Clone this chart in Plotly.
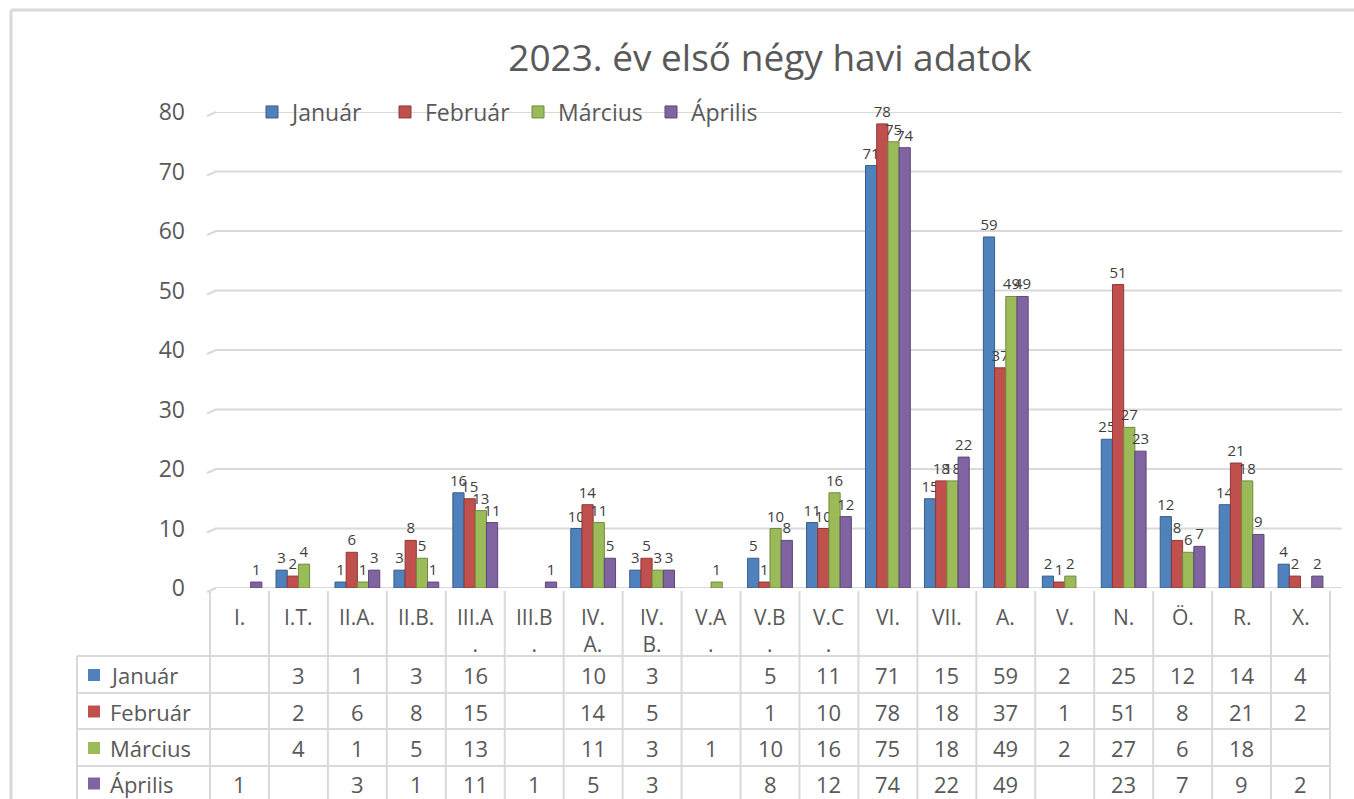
import plotly.graph_objects as go

# ---------------- data ----------------
categories = ["I.", "I.T.", "II.A.", "II.B.", "III.A.", "III.B.", "IV. A.", "IV. B.",
              "V.A.", "V.B.", "V.C.", "VI.", "VII.", "A.", "V.", "N.", "Ö.", "R.", "X."]
header_labels = ["I.", "I.T.", "II.A.", "II.B.", "III.A<br>.", "III.B<br>.", "IV.<br>A.",
                 "IV.<br>B.", "V.A<br>.", "V.B<br>.", "V.C<br>.", "VI.", "VII.", "A.", "V.",
                 "N.", "Ö.", "R.", "X."]
series_names = ["Január", "Február", "Március", "Április"]
januar = [None, 3, 1, 3, 16, None, 10, 3, None, 5, 11, 71, 15, 59, 2, 25, 12, 14, 4]
februar = [None, 2, 6, 8, 15, None, 14, 5, None, 1, 10, 78, 18, 37, 1, 51, 8, 21, 2]
marcius = [None, 4, 1, 5, 13, None, 11, 3, 1, 10, 16, 75, 18, 49, 2, 27, 6, 18, None]
aprilis = [1, None, 3, 1, 11, 1, 5, 3, None, 8, 12, 74, 22, 49, None, 23, 7, 9, 2]
y_ticks = [0, 10, 20, 30, 40, 50, 60, 70, 80]
title_text = "2023. év első négy havi adatok"

# ---------------- style ----------------
W, H = 1354, 799
colors = ["#4F81BD", "#C0504D", "#9BBB59", "#8064A2"]
edge = ["#385D8A", "#8C3836", "#71893F", "#5C4776"]
FONT = "Open Sans"
TXT = "#595959"
GRID = "#D9D9D9"


def py(p):
    return 1 - p / H


def px(p):
    return p / W


x_left, x_right = 210, 1330
y_zero, y_top = 588, 112
row_lines = [656, 693, 729, 766]
row_text = [675, 711.5, 748, 783.5]

series = [januar, februar, marcius, aprilis]

fig = go.Figure()
for name, vals, c, e in zip(series_names, series, colors, edge):
    fig.add_trace(go.Bar(
        x=categories, y=vals, name=name,
        marker=dict(color=c, line=dict(color=e, width=1)),
        text=[("" if v is None else str(v)) for v in vals],
        textposition="outside", cliponaxis=False, constraintext="none",
        textfont=dict(family=FONT, size=15, color="#404040"),
        hoverinfo="skip",
    ))

shapes = []
# frame
shapes.append(dict(type="line", xref="paper", yref="paper", x0=px(11), x1=1, y0=py(10), y1=py(10),
                   line=dict(color=GRID, width=3)))
shapes.append(dict(type="line", xref="paper", yref="paper", x0=px(11), x1=px(11), y0=py(10), y1=0,
                   line=dict(color=GRID, width=3)))
# gridlines (extend past the plot area like the 3D back wall)
for t in y_ticks:
    shapes.append(dict(type="line", xref="paper", yref="y", x0=px(215), x1=px(1342), y0=t, y1=t,
                       line=dict(color=GRID, width=2), layer="below"))
    shapes.append(dict(type="line", xref="paper", yref="paper", x0=px(207), x1=px(216),
                       y0=py(y_zero - (y_zero - y_top) * t / 80 + 4),
                       y1=py(y_zero - (y_zero - y_top) * t / 80),
                       line=dict(color=GRID, width=2), layer="below"))
# table vertical lines
n = len(categories)
for k in range(n + 1):
    xx = x_left + (x_right - x_left) * k / n
    shapes.append(dict(type="line", xref="paper", yref="paper", x0=px(xx), x1=px(xx),
                       y0=py(y_zero + 3), y1=0, line=dict(color=GRID, width=2)))
# table left border
shapes.append(dict(type="line", xref="paper", yref="paper", x0=px(77), x1=px(77),
                   y0=py(row_lines[0]), y1=0, line=dict(color=GRID, width=2)))
# table horizontal lines
for r in row_lines:
    shapes.append(dict(type="line", xref="paper", yref="paper", x0=px(77), x1=px(x_right),
                       y0=py(r), y1=py(r), line=dict(color=GRID, width=2)))
# legend keys in table
for i, c in enumerate(colors):
    yc = row_text[i]
    shapes.append(dict(type="rect", xref="paper", yref="paper", x0=px(88), x1=px(100),
                       y0=py(yc + 6), y1=py(yc - 6), fillcolor=c, line=dict(width=0)))

annotations = []
for i, (name, vals) in enumerate(zip(series_names, series)):
    annotations.append(dict(xref="paper", yref="paper", x=px(108), y=py(row_text[i]),
                            text=name, showarrow=False, xanchor="left", yanchor="middle",
                            font=dict(family=FONT, size=22, color=TXT)))
    for cat, v in zip(categories, vals):
        if v is None:
            continue
        annotations.append(dict(xref="x", yref="paper", x=cat, y=py(row_text[i]),
                                text=str(v), showarrow=False, xanchor="center", yanchor="middle",
                                font=dict(family=FONT, size=22, color=TXT)))
# header labels
for cat, lab in zip(categories, header_labels):
    annotations.append(dict(xref="x", yref="paper", x=cat, y=py(601), text=lab,
                            showarrow=False, xanchor="center", yanchor="top",
                            font=dict(family=FONT, size=21, color=TXT)))

fig.update_layout(
    width=W, height=H,
    margin=dict(l=0, r=0, t=0, b=0, autoexpand=False),
    paper_bgcolor="white", plot_bgcolor="rgba(0,0,0,0)",
    barmode="group", bargap=0.24, bargroupgap=0,
    title=dict(text=title_text, x=770 / W, xanchor="center", y=py(58), yanchor="middle",
               font=dict(family=FONT, size=37, color=TXT)),
    legend=dict(orientation="h", x=px(252), xanchor="left", y=py(112), yanchor="middle",
                bgcolor="rgba(0,0,0,0)", font=dict(family=FONT, size=23, color=TXT),
                itemwidth=30, traceorder="normal", entrywidth=88, entrywidthmode="pixels"),
    xaxis=dict(domain=[px(x_left), px(x_right)], type="category", showticklabels=False,
               showgrid=False, zeroline=False, showline=False, ticks="", automargin=False),
    yaxis=dict(domain=[py(y_zero), py(y_top)], range=[0, 80], tickvals=y_ticks,
               showgrid=False, zeroline=False, showline=False,
               ticks="", ticklabelstandoff=24, automargin=False,
               tickfont=dict(family=FONT, size=23, color=TXT)),
    shapes=shapes, annotations=annotations,
    showlegend=True,
)

fig.write_html("out.html", config={"displayModeBar": False},
               post_script="document.body.style.margin='0';")
